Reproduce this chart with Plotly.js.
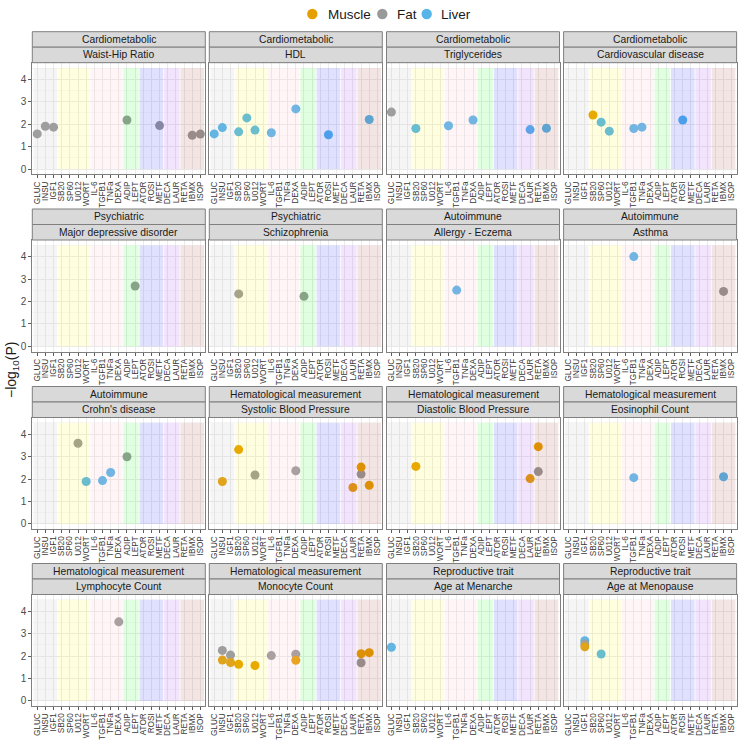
<!DOCTYPE html>
<html><head><meta charset="utf-8">
<script src="https://cdn.plot.ly/plotly-3.0.1.min.js"></script>
<style>html,body{margin:0;padding:0;background:#fff}#chart{width:740px;height:740px}</style>
</head><body><div id="chart"></div>
<script>
// ---------- data ----------
const categories = ["GLUC","INSU","IGF1","SB20","SP60","U012","WORT","IL-6","TGFB1","TNFa","DEXA","ADIP","LEPT","ATOR","ROSI","METF","DECA","LAUR","RETA","IBMX","ISOP"];
const traitGroups = ["Cardiometabolic","Cardiometabolic","Cardiometabolic","Cardiometabolic","Psychiatric","Psychiatric","Autoimmune","Autoimmune","Autoimmune","Hematological measurement","Hematological measurement","Hematological measurement","Hematological measurement","Hematological measurement","Reproductive trait","Reproductive trait"];
const traitNames = ["Waist-Hip Ratio","HDL","Triglycerides","Cardiovascular disease","Major depressive disorder","Schizophrenia","Allergy - Eczema","Asthma","Crohn's disease","Systolic Blood Pressure","Diastolic Blood Pressure","Eosinophil Count","Lymphocyte Count","Monocyte Count","Age at Menarche","Age at Menopause"];
const tissues = ["Muscle","Fat","Liver"];
const yTicks = [0,1,2,3,4];
// treatment bands (first and last category of each band)
const bandStart = ["GLUC","SB20","IL-6","ADIP","ATOR","DECA","RETA"];
const bandEnd   = ["IGF1","WORT","DEXA","LEPT","METF","LAUR","ISOP"];
// points (long format): trait index, tissue, category, -log10(P)
const ptTrait = [0,0,0,0,0,0,0,
  1,1,1,1,1,1,1,1,1,
  2,2,2,2,2,2,
  3,3,3,3,3,3,
  4,
  5,5,
  6,
  7,7,
  8,8,8,8,8,
  9,9,9,9,9,9,9,9,
  10,10,10,10,
  11,11,
  12,
  13,13,13,13,13,13,13,13,13,13,13,13,
  14,
  15,15,15,15];
const ptTissue = ["Fat","Fat","Fat","Fat","Fat","Fat","Fat",
  "Liver","Liver","Liver","Liver","Liver","Liver","Liver","Liver","Liver",
  "Fat","Liver","Liver","Liver","Liver","Liver",
  "Muscle","Liver","Liver","Liver","Liver","Liver",
  "Fat",
  "Fat","Fat",
  "Liver",
  "Liver","Fat",
  "Fat","Liver","Liver","Liver","Fat",
  "Muscle","Muscle","Fat","Fat","Muscle","Muscle","Fat","Muscle",
  "Muscle","Muscle","Muscle","Fat",
  "Liver","Liver",
  "Fat",
  "Fat","Muscle","Fat","Muscle","Muscle","Muscle","Fat","Fat","Muscle","Muscle","Fat","Muscle",
  "Liver",
  "Liver","Fat","Muscle","Liver"];
const ptCat = ["GLUC","INSU","IGF1","ADIP","METF","IBMX","ISOP",
  "GLUC","INSU","SB20","SP60","U012","IL-6","DEXA","ROSI","IBMX",
  "GLUC","SB20","IL-6","DEXA","LAUR","IBMX",
  "SB20","SP60","U012","TGFB1","TNFa","ROSI",
  "LEPT",
  "SB20","ADIP",
  "TGFB1",
  "TGFB1","IBMX",
  "U012","WORT","TGFB1","TNFa","ADIP",
  "INSU","SB20","U012","DEXA","LAUR","RETA","RETA","IBMX",
  "SB20","LAUR","RETA","RETA",
  "TGFB1","IBMX",
  "DEXA",
  "INSU","INSU","IGF1","IGF1","SB20","U012","IL-6","DEXA","DEXA","RETA","RETA","IBMX",
  "GLUC",
  "IGF1","IGF1","IGF1","SP60"];
const ptLogP = [1.57,1.91,1.87,2.19,1.94,1.51,1.56,
  1.57,1.85,1.66,2.28,1.74,1.62,2.68,1.53,2.21,
  2.54,1.81,1.93,2.19,1.76,1.82,
  2.41,2.09,1.69,1.81,1.87,2.19,
  2.69,
  2.34,2.23,
  2.51,
  4.00,2.45,
  3.59,1.89,1.93,2.29,2.99,
  1.89,3.31,2.18,2.37,1.62,2.53,2.22,1.72,
  2.56,2.02,3.44,2.33,
  2.06,2.10,
  3.52,
  2.25,1.82,2.04,1.71,1.63,1.58,2.02,2.08,1.81,2.10,1.70,2.15,
  2.39,
  2.68,2.54,2.41,2.09];

// ---------- styles ----------
const W = 740, H = 740;
const FONT = "Liberation Sans, Arial, Helvetica, sans-serif";
const tissueColor = {Muscle:"#E69F00", Fat:"#999999", Liver:"#56B4E9"};
const drawOrder = ["Liver","Fat","Muscle"];
const bandColors = ["rgba(190,190,190,0.15)","rgba(255,255,0,0.12)","rgba(255,192,203,0.17)","rgba(0,255,0,0.12)","rgba(0,0,255,0.12)","rgba(160,32,240,0.12)","rgba(165,42,42,0.12)"];
const colLeft = [32.3, 209.3, 386.5, 563.6];
const panelW = 173;
const rowTop = [31.7, 209.0, 386.5, 563.5];
const stripH = 15.5;
const fx = px => px / W;
const fy = px => 1 - px / H;

const data = [];
const shapes = [];
const annotations = [];
const layout = {
  width: W, height: H,
  margin: {l:0, r:0, t:0, b:0},
  paper_bgcolor: "#ffffff", plot_bgcolor: "#ffffff",
  showlegend: false,
  font: {family: FONT, color: "#1A1A1A"},
  shapes: shapes, annotations: annotations
};

traitNames.forEach((name, p) => {
  const r = Math.floor(p / 4), c = p % 4;
  const k = p + 1;
  const xid = k === 1 ? "x" : "x" + k;
  const yid = k === 1 ? "y" : "y" + k;
  const L = colLeft[c], T = rowTop[r];
  const pTop = T + 2*stripH + 0.3, pBot = T + 142.5;

  layout[k === 1 ? "xaxis" : "xaxis" + k] = {
    domain: [fx(L), fx(L + panelW)], anchor: yid,
    type: "category", categoryorder: "array", categoryarray: categories,
    tickmode: "array", tickvals: categories, ticktext: categories,
    range: [-0.6, categories.length - 0.4],
    tickangle: -90, tickfont: {size: 8.2, color: "#3A3A3A", family: FONT},
    ticks: "outside", ticklen: 3, tickcolor: "#333333", tickwidth: 0.8,
    showgrid: true, gridcolor: "#EBEBEB", gridwidth: 1,
    showline: true, mirror: true, linecolor: "#7F7F7F", linewidth: 1,
    zeroline: false, fixedrange: true, automargin: false
  };
  layout[k === 1 ? "yaxis" : "yaxis" + k] = {
    domain: [fy(pBot), fy(pTop)], anchor: xid,
    range: [-0.225, 4.725],
    tickmode: "array", tickvals: yTicks, ticktext: yTicks.map(String),
    showticklabels: c === 0, ticks: c === 0 ? "outside" : "", ticklen: 3,
    tickcolor: "#333333", tickwidth: 0.8,
    tickfont: {size: 10, color: "#4D4D4D", family: FONT},
    showgrid: true, gridcolor: "#EBEBEB", gridwidth: 1,
    minor: {tickvals: [0.5,1.5,2.5,3.5,4.5], showgrid: true, gridcolor: "#F4F4F4", gridwidth: 0.6, ticks: ""},
    showline: true, mirror: true, linecolor: "#7F7F7F", linewidth: 1,
    zeroline: false, fixedrange: true, automargin: false
  };

  // points
  drawOrder.forEach(t => {
    const xs = [], ys = [];
    ptTrait.forEach((tp, i) => {
      if (tp === p && ptTissue[i] === t) { xs.push(ptCat[i]); ys.push(ptLogP[i]); }
    });
    if (xs.length) {
      data.push({type: "scatter", mode: "markers", x: xs, y: ys, xaxis: xid, yaxis: yid,
        name: t, showlegend: false, hoverinfo: "skip",
        marker: {color: tissueColor[t], size: 9, line: {width: 0}}});
    }
  });

  // treatment bands (drawn over the points, translucent)
  bandStart.forEach((s, b) => {
    shapes.push({type: "rect", xref: xid, yref: yid, layer: "above",
      x0: categories.indexOf(s) - 0.45, x1: categories.indexOf(bandEnd[b]) + 0.45,
      y0: 0, y1: 4.5, fillcolor: bandColors[b], line: {width: 0}});
  });

  // strips
  [traitGroups[p], name].forEach((txt, s) => {
    const y0 = T + s*stripH, y1 = y0 + stripH;
    shapes.push({type: "rect", xref: "paper", yref: "paper", layer: "above",
      x0: fx(L), x1: fx(L + panelW), y0: fy(y1), y1: fy(y0),
      fillcolor: "#D9D9D9", line: {color: "#7F7F7F", width: 1}});
    annotations.push({xref: "paper", yref: "paper", x: fx(L + panelW/2), y: fy((y0+y1)/2),
      xanchor: "center", yanchor: "middle", showarrow: false, text: txt,
      font: {size: 10.3, color: "#1A1A1A", family: FONT}});
  });
});

// y axis title
annotations.push({xref: "paper", yref: "paper", x: fx(12), y: 0.5, xanchor: "center", yanchor: "middle",
  showarrow: false, textangle: -90, text: "\u2212log<sub>10</sub>(P)",
  font: {size: 14, color: "#1A1A1A", family: FONT}});

// legend (top, centered)
const legCircleX = [312.3, 382.3, 426.7];
const legTextX = [325.5, 394.5, 439];
const legY = 14;
tissues.forEach((t, i) => {
  const rad = 5.2;
  shapes.push({type: "circle", xref: "paper", yref: "paper", layer: "above",
    x0: fx(legCircleX[i] - rad), x1: fx(legCircleX[i] + rad),
    y0: fy(legY + rad), y1: fy(legY - rad),
    fillcolor: tissueColor[t], line: {width: 0}});
  annotations.push({xref: "paper", yref: "paper", x: fx(legTextX[i]), y: fy(legY),
    xanchor: "left", yanchor: "middle", showarrow: false, text: t,
    font: {size: 13.5, color: "#1A1A1A", family: FONT}});
});

Plotly.newPlot("chart", data, layout, {staticPlot: true, displayModeBar: false});
</script></body></html>
